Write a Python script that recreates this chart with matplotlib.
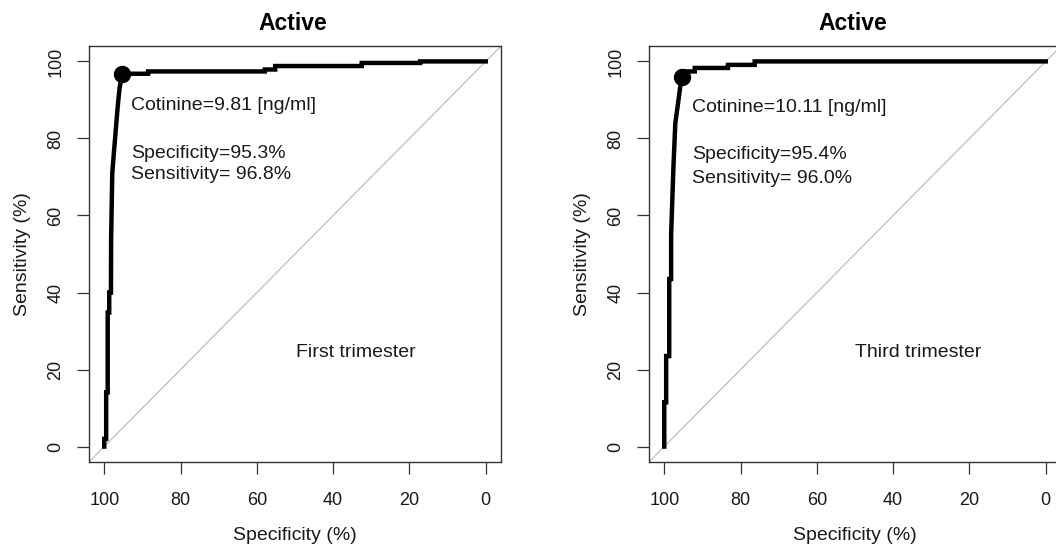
import matplotlib
matplotlib.use("Agg")
import matplotlib.pyplot as plt

plt.rcParams['font.family'] = ['Liberation Sans', 'DejaVu Sans']

# ---- data ----
first_spec = [100, 100, 99.5, 99.5, 99.1, 99.1, 98.7, 98.7, 98.25, 98.2, 97.9, 97.5, 97.0, 96.5, 96.0, 95.3,
              88.5, 88.5, 57.9, 57.9, 55.2, 55.2, 32.5, 32.5, 17.2, 17.2, 0]
first_sens = [0, 2, 2, 14.1, 14.1, 34.8, 34.8, 40.0, 40.0, 54.0, 71.0, 76.0, 82.0, 88.0, 93.0, 96.8,
              96.8, 97.4, 97.4, 97.9, 97.9, 98.8, 98.8, 99.6, 99.6, 100, 100]
third_spec = [100, 100, 99.5, 99.5, 98.7, 98.7, 98.2, 98.2, 97.6, 97.1, 96.5, 95.8, 95.4,
              95.4, 92.0, 92.0, 83.3, 83.3, 76.3, 76.3, 0]
third_sens = [0, 11.5, 11.5, 23.5, 23.5, 43.5, 43.5, 55.0, 72.5, 84.0, 88.3, 93.5, 96.0,
              97.4, 97.4, 98.3, 98.3, 99.1, 99.1, 100, 100]
best_points = [(95.3, 96.8), (95.4, 96.0)]
cutoff_labels = ["Cotinine=9.81 [ng/ml]", "Cotinine=10.11 [ng/ml]"]
spec_labels = ["Specificity=95.3%", "Specificity=95.4%"]
sens_labels = ["Sensitivity= 96.8%", "Sensitivity= 96.0%"]
panel_labels = ["First trimester", "Third trimester"]
titles = ["Active", "Active"]
ticks = [0, 20, 40, 60, 80, 100]

W, H = 1056, 544
fig = plt.figure(figsize=(W / 100, H / 100), dpi=100)

boxes = [(89, 46, 412, 416), (649, 46, 412, 416)]  # left, top, width, height (px)
curves = [(first_spec, first_sens), (third_spec, third_sens)]
text_pos = [
    dict(cut=(93.0, 88.6), spec=(93.0, 76.2), sens=(93.0, 70.7), panel=(34.0, 24.5)),
    dict(cut=(92.7, 88.1), spec=(92.7, 75.9), sens=(92.7, 69.7), panel=(33.5, 24.5)),
]
FS = 14

for i in range(2):
    l, t, w, h = boxes[i]
    ax = fig.add_axes([l / W, 1 - (t + h) / H, w / W, h / H])
    ax.set_xlim(104, -4)
    ax.set_ylim(-4, 104)
    ax.axline((100, 0), (0, 100), color='#bdbdbd', lw=0.9, zorder=1)
    xs, ys = curves[i]
    ax.plot(xs, ys, color='black', lw=3.2, solid_joinstyle='miter', zorder=3)
    bx, by = best_points[i]
    ax.plot([bx], [by], 'o', color='black', markersize=11.5, zorder=4)
    tp = text_pos[i]
    ax.text(*tp['cut'], cutoff_labels[i], fontsize=FS, ha='left', va='center', color='#1a1a1a')
    ax.text(*tp['spec'], spec_labels[i], fontsize=FS, ha='left', va='center', color='#1a1a1a')
    ax.text(*tp['sens'], sens_labels[i], fontsize=FS, ha='left', va='center', color='#1a1a1a')
    ax.text(*tp['panel'], panel_labels[i], fontsize=FS, ha='center', va='center', color='#1a1a1a')
    ax.set_xticks(ticks)
    ax.set_yticks(ticks)
    ax.set_xticklabels([str(v) for v in ticks])
    ax.set_yticklabels([str(v) for v in ticks], rotation=90, va='center')
    ax.tick_params(axis='both', direction='out', length=8.6, width=0.9, color='#333333',
                   labelsize=13, labelcolor='#1a1a1a')
    ax.tick_params(axis='x', pad=13)
    ax.tick_params(axis='y', pad=9)
    for sp in ax.spines.values():
        sp.set_linewidth(1.0)
        sp.set_color('#333333')
    cx = (l + w / 2) / W
    fig.text(cx, 1 - 535 / H, "Specificity (%)", fontsize=FS, ha='center', va='center', color='#1a1a1a')
    fig.text((l - 66.5) / W, 1 - (t + h / 2) / H, "Sensitivity (%)", fontsize=FS, rotation=90,
             ha='center', va='center', color='#1a1a1a')
    fig.text(cx - 2 / W, 1 - 23.5 / H, titles[i], fontsize=16.5, fontweight='bold', ha='center', va='center')

fig.savefig("out.png", dpi=100)
